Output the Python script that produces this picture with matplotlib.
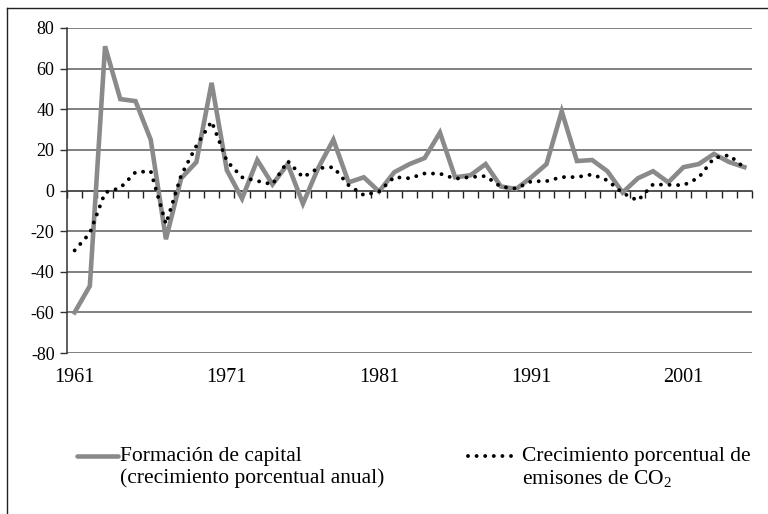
import matplotlib.pyplot as plt
import numpy as np
from matplotlib.lines import Line2D

plt.rcParams["font.family"] = ["Liberation Serif", "DejaVu Serif"]
plt.rcParams["mathtext.fontset"] = "custom"
plt.rcParams["mathtext.rm"] = "Liberation Serif"

years = list(range(1961, 2006))
year_labels = ["1961", "1971", "1981", "1991", "2001"]

# formacion de capital (crecimiento porcentual anual)
capital = [-60, -47, 71, 45, 44, 25, -24, 6, 14, 53,
           10, -4, 15, 3, 13, -6.5, 11, 25, 4, 6.5,
           -0.5, 9, 13, 16, 28.5, 6.5, 7.5, 13, 2, 0.7,
           6.5, 13, 39, 14.5, 15, 9.5, -1, 6, 9.5, 4,
           11.5, 13, 18, 14, 11.5]

# crecimiento porcentual de emisiones de CO2
co2 = [-29.5, -21, -1, 1.3, 9, 9.5, -16.5, 7.5, 22, 34,
       14.5, 6.5, 4.7, 3, 14.5, 6.5, 11, 11.5, 2.6, -2.3,
       -0.5, 6.6, 6, 8.4, 8.3, 5.8, 6.6, 7.1, 1.8, 1,
       4.5, 4.6, 6.6, 6.6, 7.9, 5, -1.2, -5, 3, 2.8,
       2.6, 6.3, 16, 17.4, 11.2]

yticks = [-80, -60, -40, -20, 0, 20, 40, 60, 80]

gray = "#8a8a8a"
dots = (0, (0.01, 2.2))

fig = plt.figure(figsize=(7.68, 5.14), dpi=100)
ax = fig.add_axes([67 / 768, 1 - 353 / 514, 685 / 768, 325 / 514])

x = np.arange(len(years))
ax.plot(x, capital, color=gray, lw=3.3, solid_joinstyle="miter", zorder=3)
ax.plot(x, co2, color="black", lw=2.8, linestyle=dots,
        dash_capstyle="round", zorder=4)

ax.set_xlim(-0.5, len(years) - 0.5)
ax.set_ylim(-80, 80)

# horizontal gridlines
for v in yticks:
    if v != 0:
        ax.axhline(v, color="#5e5e5e", lw=1.1, zorder=1)

ax.set_yticks(yticks)
ax.set_yticklabels([str(v) for v in yticks], fontsize=13)
ax.tick_params(axis="y", direction="out", length=5, width=1, color="#333333", pad=4)

# category axis crossing at 0, ticks between categories
ax.spines["bottom"].set_position(("data", 0))
ax.spines["bottom"].set_color("#222222")
ax.spines["bottom"].set_linewidth(1.1)
ax.set_xticks(np.arange(-0.5, len(years), 1))
ax.set_xticklabels([])
ax.tick_params(axis="x", direction="out", length=5, width=1, color="#222222")
ax.spines["bottom"].set_zorder(2)

for s in ["top", "right"]:
    ax.spines[s].set_visible(False)
ax.spines["left"].set_color("#333333")
ax.spines["left"].set_linewidth(1.1)

sec = ax.secondary_xaxis(0.0)
sec.spines["bottom"].set_visible(False)
sec.set_xticks([years.index(int(y)) for y in year_labels])
sec.set_xticklabels(year_labels, fontsize=14.5)
sec.tick_params(axis="x", length=0, pad=11)

# legend drawn manually
ly = 1 - 456 / 514
fig.add_artist(Line2D([77 / 768, 118 / 768], [ly, ly],
                      transform=fig.transFigure, color=gray, lw=3.3,
                      solid_capstyle="round"))
fig.text(120 / 768, 1 - 447 / 514,
         "Formación de capital\n(crecimiento porcentual anual)",
         fontsize=15.5, va="top", ha="left", linespacing=1.17)
fig.add_artist(Line2D([468 / 768, 514 / 768], [ly, ly],
                      transform=fig.transFigure, color="black", lw=2.8,
                      linestyle=dots, dash_capstyle="round"))
fig.text(522 / 768, 1 - 447 / 514,
         "Crecimiento porcentual de\nemisones de CO$_2$",
         fontsize=15.5, va="top", ha="left", linespacing=1.17)

# outer frame (left and top only visible)
fig.add_artist(Line2D([7 / 768, 7 / 768], [0, 1 - 8 / 514],
                      transform=fig.transFigure, color="#222222", lw=1.0))
fig.add_artist(Line2D([7 / 768, 1], [1 - 8 / 514] * 2,
                      transform=fig.transFigure, color="#222222", lw=1.0))

fig.savefig("out.png", dpi=100)
